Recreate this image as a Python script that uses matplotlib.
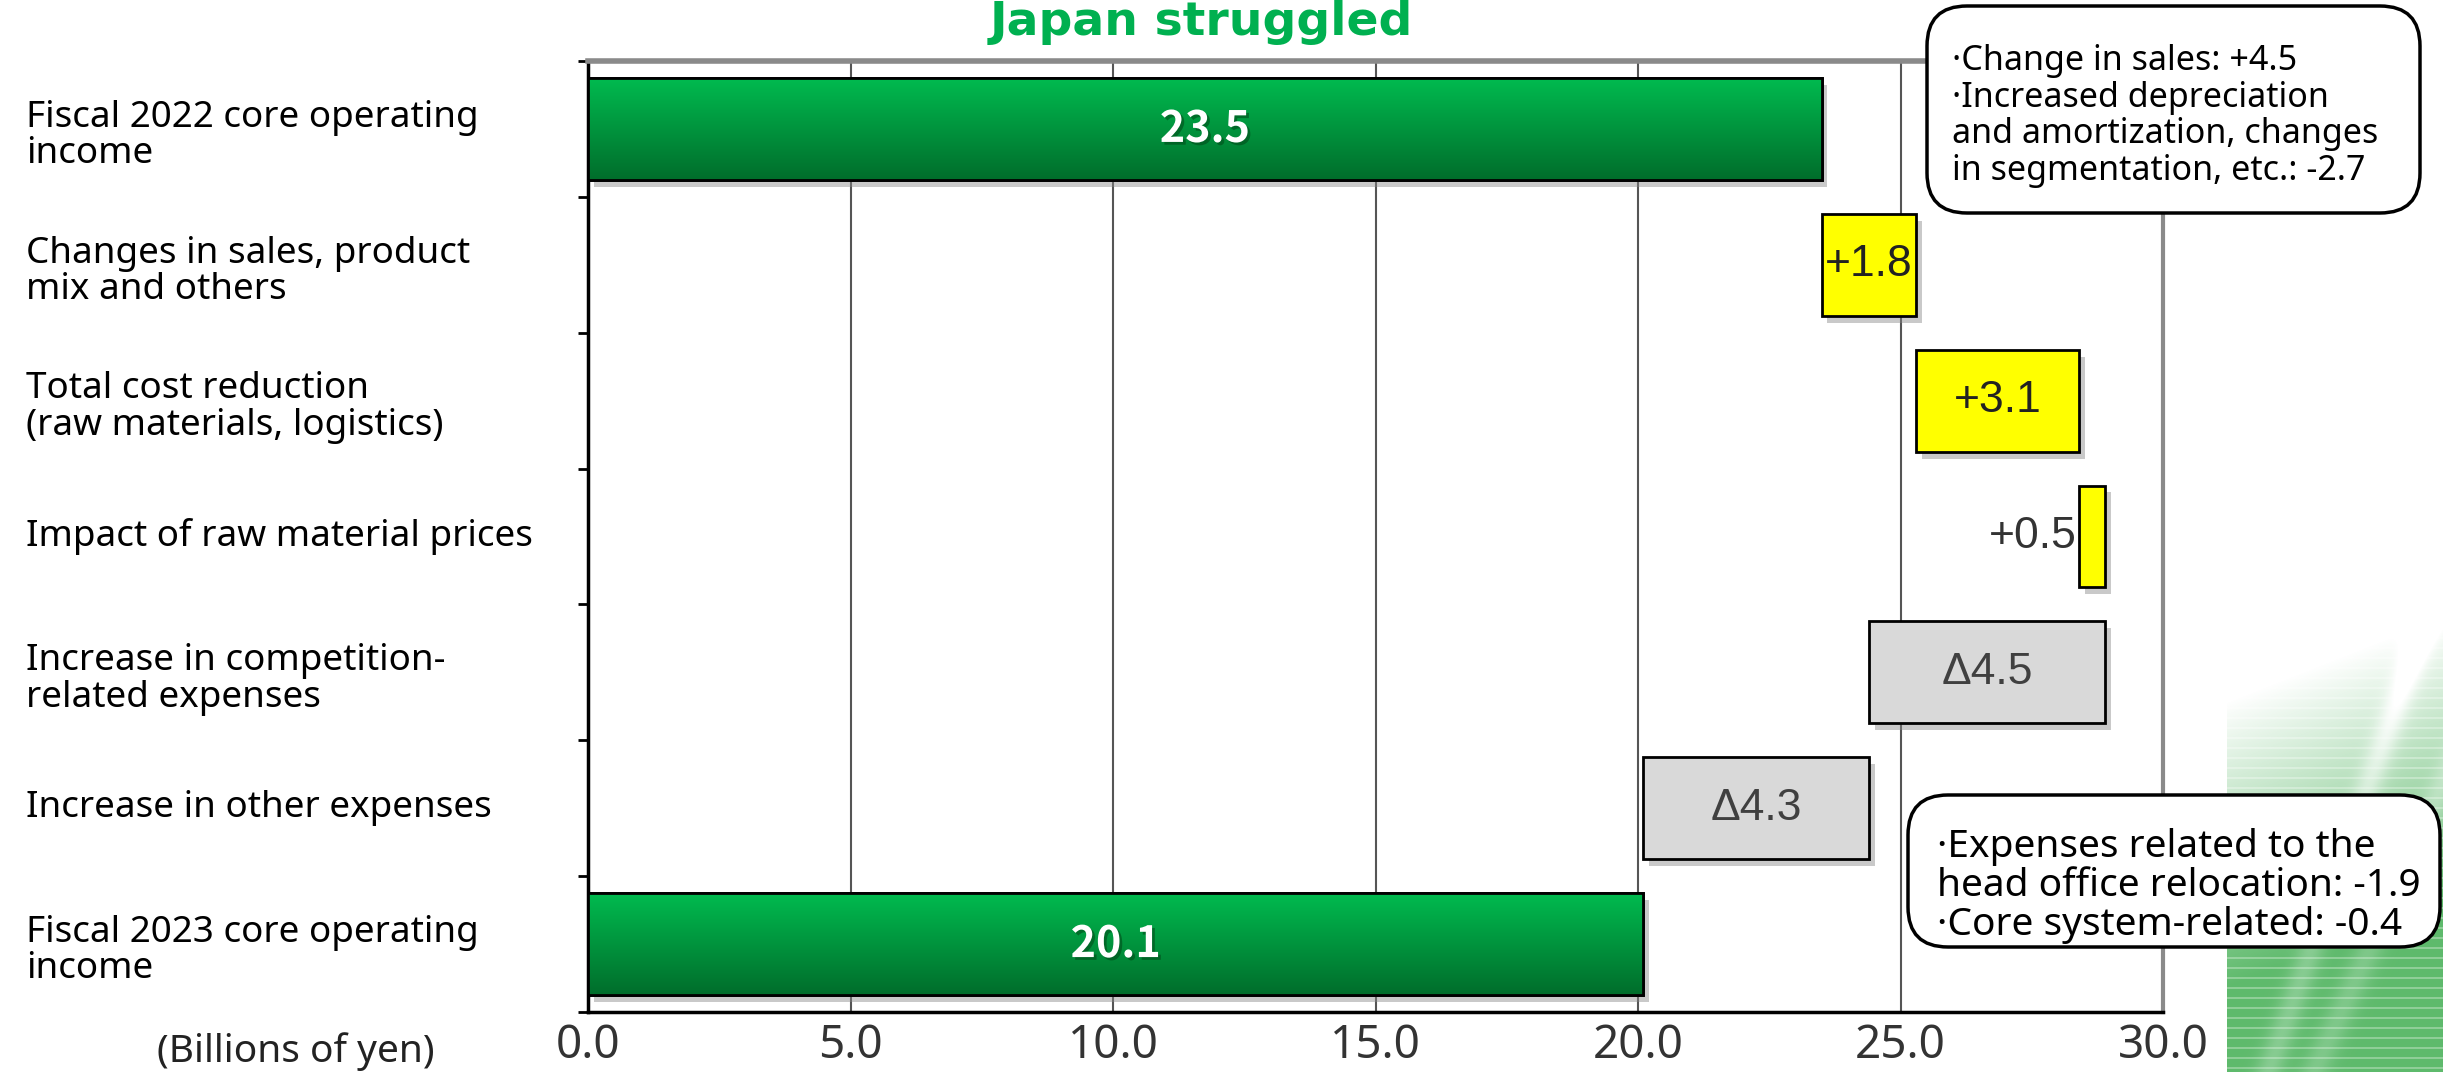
import numpy as np
import matplotlib
matplotlib.use('Agg')
import matplotlib.pyplot as plt
import matplotlib.patheffects as pe
from matplotlib import transforms
from matplotlib.patches import FancyBboxPatch

plt.rcParams['font.family'] = ['Noto Sans', 'DejaVu Sans']

categories = [
    'Fiscal 2022 core operating\nincome',
    'Changes in sales, product\nmix and others',
    'Total cost reduction\n(raw materials, logistics)',
    'Impact of raw material prices',
    'Increase in competition-\nrelated expenses',
    'Increase in other expenses',
    'Fiscal 2023 core operating\nincome',
]
changes = [23.5, 1.8, 3.1, 0.5, -4.5, -4.3, 20.1]
kinds = ['total', 'up', 'up', 'up', 'down', 'down', 'total']
value_labels = ['23.5', '+1.8', '+3.1', '+0.5', 'Δ4.5', 'Δ4.3', '20.1']
xticks = [0, 5, 10, 15, 20, 25, 30]

note_sales = ['·Change in sales: +4.5', '·Increased depreciation',
              'and amortization, changes', 'in segmentation, etc.: -2.7']
note_other = ['·Expenses related to the', 'head office relocation: -1.9',
              '·Core system-related: -0.4']

# waterfall geometry
lefts, widths = [], []
running = 0.0
for c, k in zip(changes, kinds):
    if k == 'total':
        lefts.append(0.0)
        widths.append(c)
        running = c
    elif k == 'up':
        lefts.append(running)
        widths.append(c)
        running += c
    else:
        running += c
        lefts.append(running)
        widths.append(-c)

face = {'total': '#00a846', 'up': '#ffff00', 'down': '#d9d9d9'}
colors = [face[k] for k in kinds]

W, H = 2443, 1072
fig = plt.figure(figsize=(W / 100, H / 100), dpi=100)

# green striped decoration in the lower right corner
dx0, dy1 = 2227, 387
dh, dw = H - dy1, W - dx0
deco = fig.add_axes([dx0 / W, 0, dw / W, dh / H], zorder=-1)
deco.axis('off')
yy, xx = np.mgrid[0:dh, 0:dw]
fy, fx = yy / dh, xx / dw
strength = np.clip(2.4 * fy + 0.3 * fx - 1.1, 0, 1)
band = np.exp(-((fy - 0.72 + 0.9 * (fx - 0.5)) / 0.06) ** 2)
band2 = np.exp(-((fy - 0.93 + 0.7 * (fx - 0.5)) / 0.05) ** 2)
strength = np.clip(strength - 0.25 * band - 0.2 * band2, 0, 1)
base = np.array([0.30, 0.70, 0.36])
rgb = np.ones((dh, dw, 3)) * base
stripes = (yy % 10) < 2
rgb[stripes] = base * 0.7 + 0.3
rgba = np.dstack([rgb, strength * 0.9])
deco.imshow(rgba, aspect='auto', interpolation='bilinear')

ax = fig.add_axes([588 / W, 1 - 1012 / H, (2163 - 588) / W, (1012 - 61) / H])
y = np.arange(len(categories))
shadow = [pe.SimplePatchShadow(offset=(4, -5), shadow_rgbFace='#888888', alpha=0.45), pe.Normal()]
bars = ax.barh(y, widths, left=lefts, height=0.75, color=colors, edgecolor='black',
               linewidth=2, zorder=3, path_effects=shadow)

# vertical gradient on the total bars
grad_top = np.array([0.0, 0.73, 0.31])
grad_bot = np.array([0.0, 0.43, 0.17])
t = np.linspace(0, 1, 64)[:, None]
grad = (grad_top * (1 - t) + grad_bot * t)[:, None, :]
for b, k in zip(bars, kinds):
    if k != 'total':
        continue
    x0, y0 = b.get_xy()
    im = ax.imshow(grad, extent=[x0, x0 + b.get_width(), y0 + b.get_height(), y0],
                   aspect='auto', origin='upper', zorder=3.5, interpolation='bilinear')
    im.set_clip_path(b)
    ax.barh(b.get_y() + b.get_height() / 2, b.get_width(), left=x0, height=b.get_height(),
            facecolor='none', edgecolor='black', linewidth=2, zorder=4)

# value labels
arial = ['Liberation Sans', 'DejaVu Sans']
for i, (lab, k) in enumerate(zip(value_labels, kinds)):
    cx = lefts[i] + widths[i] / 2
    if k == 'total':
        ax.text(cx, i, lab, ha='center', va='center', fontsize=31, color='white',
                fontweight='bold', family=['Noto Sans CJK JP', 'DejaVu Sans'], zorder=5,
                path_effects=[pe.withSimplePatchShadow(offset=(2, -2), shadow_rgbFace='#004d1a', alpha=0.6)])
    elif widths[i] < 1.0:
        ax.text(lefts[i] - 0.05, i, lab, ha='right', va='center', fontsize=32,
                color='#333333', family=arial, zorder=5)
    else:
        ax.text(cx, i, lab, ha='center', va='center', fontsize=32,
                color='#222222' if k == 'up' else '#404040', family=arial, zorder=5)

ax.set_xlim(0, 30)
ax.set_ylim(len(categories) - 0.5, -0.5)
ax.set_xticks(xticks)
ax.set_xticklabels([f'{v:.1f}' for v in xticks], fontsize=33, color='#333333')
ax.tick_params(axis='x', length=0, pad=8)
ax.set_yticks(np.arange(len(categories) + 1) - 0.5)
ax.set_yticklabels([])
ax.tick_params(axis='y', length=7, width=2, direction='out', color='black')
ax.grid(axis='x', color='#555555', linewidth=1.5, zorder=1)
ax.set_axisbelow(True)
for side in ['left', 'bottom']:
    ax.spines[side].set_linewidth(2.5)
    ax.spines[side].set_color('black')
ax.spines['top'].set_linewidth(4)
ax.spines['top'].set_color('#8a8a8a')
ax.spines['right'].set_linewidth(3)
ax.spines['right'].set_color('#8a8a8a')

# category names on the left edge of the figure
lab_tr = transforms.blended_transform_factory(fig.transFigure, ax.transData)
two_line_tr = transforms.offset_copy(lab_tr, fig=fig, y=-7, units='dots')
for i, name in enumerate(categories):
    ax.text(26 / W, i, name, transform=two_line_tr if '\n' in name else lab_tr,
            ha='left', va='center', fontsize=26.5, color='black', linespacing=1.02,
            clip_on=False)

fig.text(296 / W, 1 - 1052 / H, '(Billions of yen)', ha='center', va='center',
         fontsize=28, color='#222222')
fig.text(1201 / W, 1 - 35 / H, 'Japan struggled', ha='center', va='baseline',
         fontsize=34, fontweight='bold', family=['DejaVu Sans'], color='#00b050')

# call-out boxes, placed in pixel-based inches
inch = fig.dpi_scale_trans
def note_box(x0, y0, x1, y1, lines, tx, ty, size, spacing):
    box = FancyBboxPatch((x0 / 100, (H - y1) / 100), (x1 - x0) / 100, (y1 - y0) / 100,
                         boxstyle='round,pad=0,rounding_size=0.4', transform=inch,
                         facecolor='white', edgecolor='black', linewidth=2.5, zorder=5)
    fig.add_artist(box)
    fig.text(tx / 100, (H - ty) / 100, '\n'.join(lines), transform=inch, ha='left',
             va='center', fontsize=size, color='black', linespacing=spacing, zorder=6)

note_box(1927, 6, 2420, 213, note_sales, 1952, 116, 24.5, 1.11)
note_box(1908, 795, 2440, 947, note_other, 1937, 886, 28, 1.04)

fig.savefig('out.png', dpi=100)
